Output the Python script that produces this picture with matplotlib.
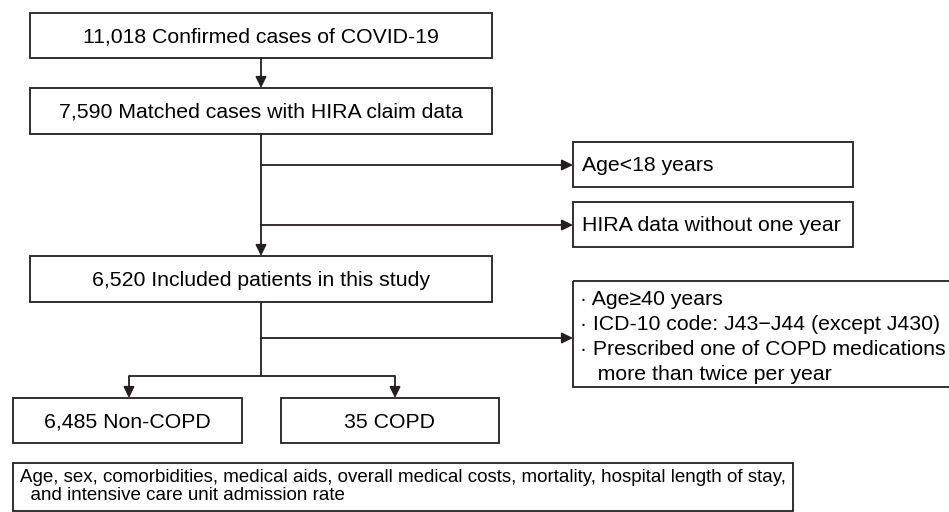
import matplotlib
matplotlib.use("Agg")
import matplotlib.pyplot as plt
from matplotlib.patches import Rectangle

plt.rcParams['font.family'] = ['Liberation Sans', 'DejaVu Sans']

# flowchart texts
main_steps = ["11,018 Confirmed cases of COVID-19",
              "7,590 Matched cases with HIRA claim data",
              "6,520 Included patients in this study"]
exclusions = ["Age<18 years", "HIRA data without one year"]
criteria = ["· Age≥40 years",
            "· ICD-10 code: J43\u2212J44 (except J430)",
            "· Prescribed one of COPD medications",
            "   more than twice per year"]
groups = ["6,485 Non-COPD", "35 COPD"]
outcomes = ["Age, sex, comorbidities, medical aids, overall medical costs, mortality, hospital length of stay,",
            "  and intensive care unit admission rate"]

fig = plt.figure(figsize=(9.49, 5.12), dpi=100)
ax = fig.add_axes([0, 0, 1, 1])
ax.set_xlim(0, 949)
ax.set_ylim(512, 0)
ax.axis('off')

col = '#231f20'
lw = 1.3
fs = 15.3


def box(x0, y0, x1, y1):
    ax.add_patch(Rectangle((x0, y0), x1 - x0, y1 - y0, fill=False,
                           edgecolor=col, linewidth=lw, clip_on=False))


def arrow(x0, y0, x1, y1):
    ax.annotate('', xy=(x1, y1), xytext=(x0, y0),
                arrowprops=dict(arrowstyle='-|>,head_length=0.55,head_width=0.27',
                                color=col, lw=lw, mutation_scale=12,
                                shrinkA=0, shrinkB=0))


def line(xs, ys):
    ax.plot(xs, ys, color=col, lw=lw, solid_capstyle='butt')


# main column
main_y = [(13, 58), (88, 134), (256, 302)]
for txt, (y0, y1) in zip(main_steps, main_y):
    box(30, y0, 492, y1)
    ax.text(261, (y0 + y1) / 2 + 7, txt, ha='center', va='baseline', fontsize=fs)

cx = 261
arrow(cx, 58, cx, 88)
arrow(cx, 134, cx, 256)

# exclusions
ex_y = [(142, 187), (202, 247)]
branch_y = [165, 225]
for txt, (y0, y1), by in zip(exclusions, ex_y, branch_y):
    box(573, y0, 853, y1)
    arrow(cx, by, 573, by)
    ax.text(582, (y0 + y1) / 2 + 6.5, txt, ha='left', va='baseline', fontsize=fs)

# COPD criteria
box(573, 281, 960, 387)
arrow(cx, 338, 573, 338)
for i, txt in enumerate(criteria):
    ax.text(580, 305 + i * 25, txt, ha='left', va='baseline', fontsize=fs)

# split into two groups
line([cx, cx], [302, 376])
line([129, 395], [376, 376])
arrow(129, 376, 129, 398)
arrow(395, 376, 395, 398)

group_x = [(13, 242), (281, 499)]
for txt, (x0, x1) in zip(groups, group_x):
    box(x0, 398, x1, 443)
    ax.text((x0 + x1) / 2, 428, txt, ha='center', va='baseline', fontsize=fs)

# outcomes
box(13, 463, 793, 511)
for i, txt in enumerate(outcomes):
    ax.text(20, 482 + i * 18, txt, ha='left', va='baseline', fontsize=13.5)

fig.savefig('out.png', dpi=100)
